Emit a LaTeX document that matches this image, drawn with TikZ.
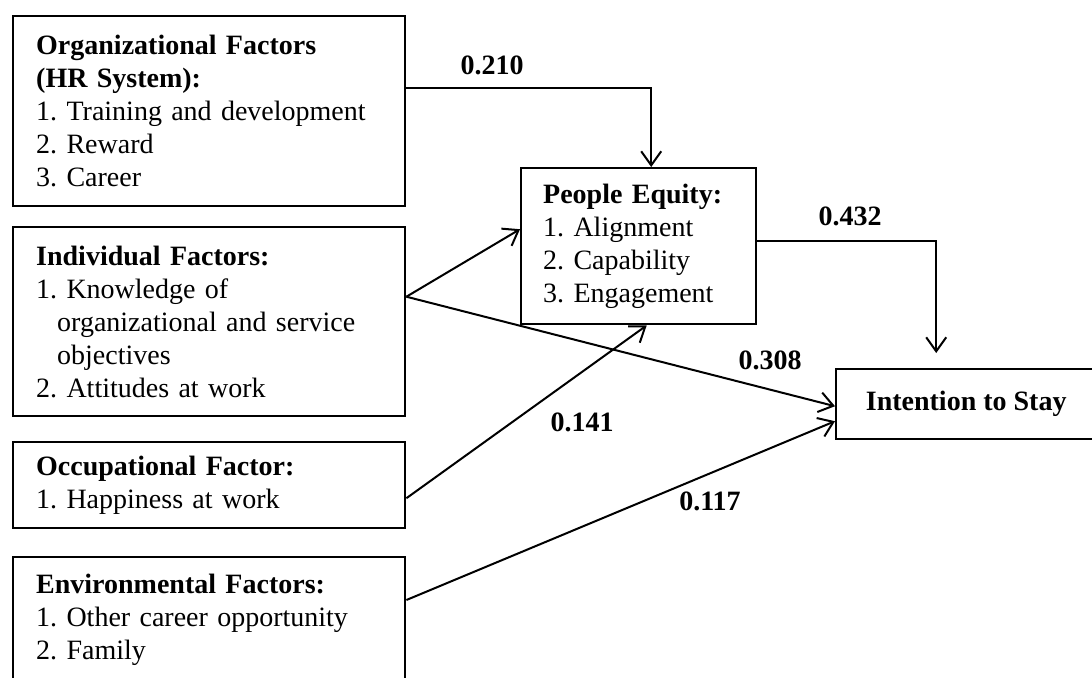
\documentclass[tikz,border=0pt]{standalone}
\usepackage{fontspec}
\setmainfont{Liberation Serif}
\usetikzlibrary{arrows.meta,calc}
\begin{document}
\begin{tikzpicture}[x=0.5pt,y=-0.5pt,
  txt/.style={font=\fontsize{14}{16.5}\selectfont\frenchspacing},
  box/.style={txt, draw, line width=1.2pt, rectangle, anchor=north west, align=left,
              inner xsep=11.5pt, inner ysep=0pt, text width=173pt},
  pebox/.style={txt, draw, line width=1.2pt, rectangle, anchor=north west, align=left,
              inner xsep=11pt, inner ysep=0pt, text width=95.5pt, minimum height=78pt},
  itsbox/.style={font=\fontsize{14}{16.5}\selectfont\bfseries, draw, line width=1.2pt,
              rectangle, anchor=north west, minimum width=130pt, minimum height=35pt},
  arr/.style={line width=1pt, -{Straight Barb[length=7pt,width=10pt]}},
  lab/.style={font=\fontsize{14}{16.5}\selectfont\bfseries}]
\useasboundingbox (0,0) rectangle (1092,677);
\clip (0,0) rectangle (1092,677);
\fill[white] (0,0) rectangle (1092,677);

\node[box, minimum height=95pt] (org) at (12,15)
  {\textbf{Organizational Factors}\\\textbf{(HR System):}\\1. Training and development\\2. Reward\\3. Career};
\node[box, minimum height=94.5pt] (ind) at (12,226)
  {\textbf{Individual Factors:}\\1. Knowledge of\\\hspace*{10.5pt}organizational and service\\\hspace*{10.5pt}objectives\\2. Attitudes at work};
\node[box, minimum height=43pt] (occ) at (12,441)
  {\textbf{Occupational Factor:}\\1. Happiness at work};
\node[box, inner ysep=8.5pt, text depth=40pt] (env) at (12,556)
  {\textbf{Environmental Factors:}\\1. Other career opportunity\\2. Family};

\node[pebox] (pe) at (520,167)
  {\textbf{People Equity:}\\1. Alignment\\2. Capability\\3. Engagement};
\node[itsbox] (its) at (835,368) {Intention to Stay};

\coordinate (orgout) at ($(org.north east)!0.379!(org.south east)$);
\coordinate (indout) at ($(ind.east)+(0,-25)$);
\coordinate (occout) at ($(occ.east)+(0,13)$);
\coordinate (envout) at ($(env.north east)+(0,44)$);

\draw[arr] (orgout) -| ($(pe.north)+(12.5,0)$);
\draw[arr] ($(pe.east)+(0,-5)$) -| ($(its.north)+(-30,-15)$);
\draw[arr] (indout) -- ($(pe.west)+(0,-17)$);
\draw[arr] (indout) -- ($(its.west)+(0,2)$);
\draw[arr] (occout) -- ($(pe.south)+(8,0)$);
\draw[arr] (envout) -- ($(its.west)+(0,17)$);

\node[lab] (l210) at (492,65) {0.210};
\node[lab] (l432) at (850,216) {0.432};
\node[lab] (l308) at (770,360) {0.308};
\node[lab] (l141) at (582,422) {0.141};
\node[lab] (l117) at (710,501) {0.117};
\end{tikzpicture}
\end{document}
